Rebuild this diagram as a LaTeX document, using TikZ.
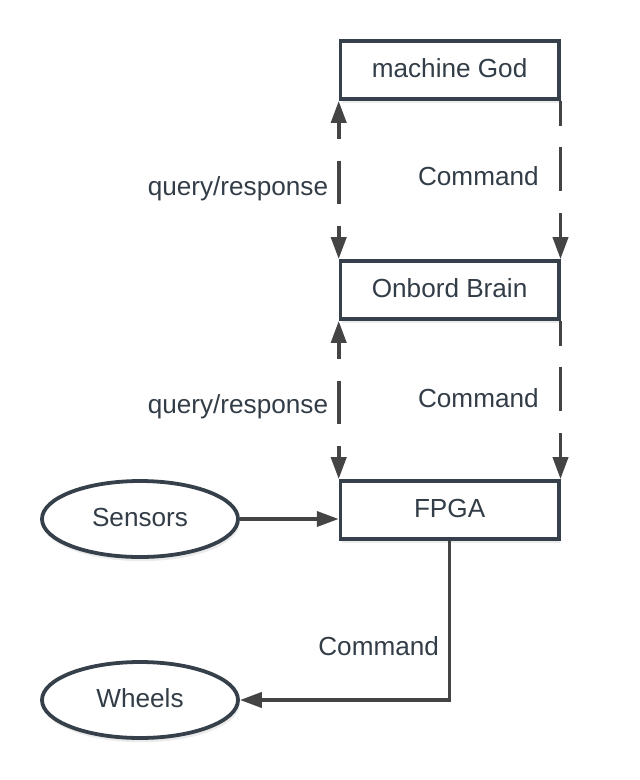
\documentclass[tikz,border=0pt]{standalone}
\usepackage{fontspec}
\setmainfont{Liberation Sans}
\usetikzlibrary{positioning, arrows.meta, shapes.geometric, shadows}

\definecolor{boxline}{HTML}{36404B}
\definecolor{wire}{HTML}{444444}
\definecolor{labeltext}{HTML}{333D47}

\begin{document}
\begin{tikzpicture}[
    >={Triangle[length=15.6pt, width=10.7pt]},
    every node/.style={font=\fontsize{18.6}{22}\selectfont, text=labeltext},
    softshadow/.style={drop shadow={shadow xshift=1pt, shadow yshift=-3pt, opacity=0.08, fill=black}},
    block/.style={draw=boxline, line width=2.7pt, fill=white, minimum width=5.45cm, minimum height=1.45cm, text depth=0.22em, softshadow},
    blob/.style={ellipse, draw=boxline, line width=2.7pt, fill=white, minimum width=4.9cm, minimum height=1.9cm, text depth=0.22em, softshadow},
    link/.style={draw=wire, line width=2.6pt},
    dashlink/.style={link, dash pattern=on 31pt off 15.6pt},
    tag/.style={inner sep=0pt}
]
    \useasboundingbox (0,0) rectangle (16,-19.5);

    % Layers
    \node[block] (god) at (11.24,-1.75) {machine God};
    \node[block, below of=god, node distance=5.5cm] (brain) {Onbord Brain};
    \node[block, below of=brain, node distance=5.5cm] (fpga) {FPGA};

    % Periphery
    \node[blob] (sensors) at (3.5,-12.975) {Sensors};
    \node[blob, below of=sensors, node distance=4.525cm] (wheels) {Wheels};

    % machine God <-> Onbord Brain
    \draw[dashlink, <->, dash phase=19pt] (god.south west) -- node[tag, midway, left=0.22cm, yshift=-0.22cm] {query/response} (brain.north west);
    \draw[dashlink, ->, dash phase=13.5pt] (god.south east) -- node[tag, midway, left=0.5cm, yshift=0.1cm] {Command} (brain.north east);

    % Onbord Brain <-> FPGA
    \draw[dashlink, <->, dash phase=19pt] (brain.south west) -- node[tag, midway, left=0.22cm, yshift=-0.17cm] {query/response} (fpga.north west);
    \draw[dashlink, ->, dash phase=13.5pt] (brain.south east) -- node[tag, midway, left=0.5cm, yshift=0.05cm] {Command} (fpga.north east);

    % FPGA inputs and outputs
    \draw[link, ->] (sensors.east) -- (fpga.west |- sensors.east);
    \draw[link, ->] (fpga.south) |- node[tag, pos=0.33, left=0.22cm] {Command} (wheels.east);

\end{tikzpicture}
\end{document}
